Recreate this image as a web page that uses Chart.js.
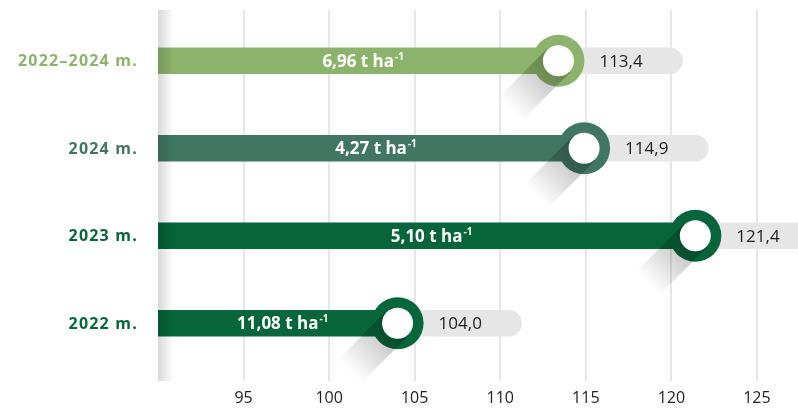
<!DOCTYPE html>
<html>
<head>
<meta charset="utf-8">
<script src="https://cdn.jsdelivr.net/npm/chart.js@4.4.1/dist/chart.umd.min.js"></script>
<style>
  html, body { margin: 0; padding: 0; background: #fff; }
  #wrap { width: 798px; height: 409px; }
</style>
</head>
<body>
<div id="wrap"><canvas id="chart" width="798" height="409"></canvas></div>
<script>
// Duomenys
const categories = ['2022–2024 m.', '2024 m.', '2023 m.', '2022 m.'];
const indexValues = [113.4, 114.9, 121.4, 104.0];
const yieldLabels = ['6,96', '4,27', '5,10', '11,08'];
const barColors = ['#8cb36b', '#417663', '#07643b', '#07663b'];
const xTickValues = [95, 100, 105, 110, 115, 120, 125];

// Stiliaus konstantos
const PILL_LEN = 7.25;
const RING_R = 26;
const HOLE_R = 15.5;
const FONT = '"Open Sans", sans-serif';

const fmt = v => v.toFixed(1).replace('.', ',');

const decorPlugin = {
    id: 'decor',
    beforeDatasetsDraw(chart) {
        const ctx = chart.ctx;
        const x = chart.scales.x;
        const area = chart.chartArea;
        ctx.save();
        ctx.strokeStyle = '#e6e6e6';
        ctx.lineWidth = 2;
        xTickValues.forEach(t => {
            const px = Math.round(x.getPixelForValue(t));
            ctx.beginPath();
            ctx.moveTo(px, area.top - 7);
            ctx.lineTo(px, area.bottom + 14);
            ctx.stroke();
        });
        ctx.restore();
    },
    afterDatasetsDraw(chart) {
        const ctx = chart.ctx;
        const x = chart.scales.x;
        const y = chart.scales.y;
        const area = chart.chartArea;
        const bars = chart.getDatasetMeta(0).data;

        // šešėlis kairėje
        ctx.save();
        const lg = ctx.createLinearGradient(area.left, 0, area.left + 16, 0);
        lg.addColorStop(0, 'rgba(0,0,0,0.15)');
        lg.addColorStop(1, 'rgba(0,0,0,0)');
        ctx.fillStyle = lg;
        ctx.fillRect(area.left, area.top - 7, 16, area.bottom - area.top + 21);
        ctx.restore();

        // kategorijų pavadinimai
        ctx.save();
        ctx.font = 'bold 16px ' + FONT;
        ctx.letterSpacing = '1.2px';
        ctx.textAlign = 'right';
        ctx.textBaseline = 'middle';
        categories.forEach((c, i) => {
            ctx.fillStyle = barColors[i];
            ctx.fillText(c, area.left - 20, y.getPixelForValue(i) + 1);
        });
        ctx.restore();

        bars.forEach((bar, i) => {
            const cx = x.getPixelForValue(indexValues[i]);
            const cy = bar.y;

            // žiedas
            ctx.save();
            ctx.fillStyle = barColors[i];
            ctx.beginPath();
            ctx.arc(cx, cy, RING_R, 0, Math.PI * 2);
            ctx.fill();
            ctx.restore();

            // įstrižas šešėlis (per žiedą ir žemyn kairėn)
            ctx.save();
            ctx.beginPath();
            ctx.rect(area.left, area.top - 20, area.right - area.left, area.bottom - area.top + 40);
            ctx.clip();
            ctx.translate(cx, cy);
            ctx.rotate(Math.PI * 3 / 4);
            const sg = ctx.createLinearGradient(0, 0, 68, 0);
            sg.addColorStop(0, 'rgba(0,0,0,0.26)');
            sg.addColorStop(0.4, 'rgba(0,0,0,0.18)');
            sg.addColorStop(1, 'rgba(0,0,0,0)');
            ctx.fillStyle = sg;
            ctx.fillRect(0, -HOLE_R - 1, 68, HOLE_R * 2 + 2);
            ctx.restore();

            // balta skylė
            ctx.save();
            ctx.fillStyle = '#ffffff';
            ctx.beginPath();
            ctx.arc(cx, cy, HOLE_R, 0, Math.PI * 2);
            ctx.fill();
            ctx.restore();

            // reikšmė pilkoje juostoje
            ctx.save();
            ctx.fillStyle = '#1e1e1e';
            ctx.font = '17px ' + FONT;
            ctx.textBaseline = 'middle';
            ctx.textAlign = 'left';
            ctx.fillText(fmt(indexValues[i]), cx + 41, cy + 1);
            ctx.restore();

            // derlius juostoje
            ctx.save();
            const main = yieldLabels[i] + ' t ha';
            const sup = '-1';
            ctx.font = 'bold 17px ' + FONT;
            const w1 = ctx.measureText(main).width;
            const mid = (area.left + cx) / 2;
            const sx = mid - w1 / 2;
            ctx.fillStyle = '#ffffff';
            ctx.textBaseline = 'middle';
            ctx.textAlign = 'left';
            ctx.fillText(main, sx, cy + 1);
            ctx.font = 'bold 10px ' + FONT;
            ctx.fillText(sup, sx + w1 + 1, cy - 4);
            ctx.restore();
        });
    }
};

new Chart(document.getElementById('chart').getContext('2d'), {
    type: 'bar',
    data: {
        labels: categories,
        datasets: [
            {
                label: 'Indeksas',
                data: indexValues,
                backgroundColor: barColors,
                barThickness: 26,
                grouped: false
            },
            {
                label: 'Fonas',
                data: indexValues.map(v => [v, v + PILL_LEN]),
                backgroundColor: '#e6e6e6',
                borderRadius: 13,
                borderSkipped: false,
                barThickness: 26,
                grouped: false
            }
        ]
    },
    options: {
        indexAxis: 'y',
        responsive: false,
        animation: false,
        layout: { padding: { top: 17, bottom: 0, left: 0, right: 0 } },
        plugins: {
            legend: { display: false },
            tooltip: { enabled: false }
        },
        scales: {
            x: {
                min: 90,
                max: 127.4,
                grid: { display: false, drawTicks: false },
                border: { display: false },
                afterBuildTicks: s => { s.ticks = xTickValues.map(v => ({ value: v })); },
                afterFit: s => { s.height = 42; },
                ticks: {
                    autoSkip: false,
                    maxRotation: 0,
                    padding: 22,
                    color: '#1e1e1e',
                    font: { family: FONT, size: 16 }
                }
            },
            y: {
                grid: { display: false, drawTicks: false },
                border: { display: false },
                afterFit: s => { s.width = 158; },
                ticks: { display: false }
            }
        }
    },
    plugins: [decorPlugin]
});
</script>
</body>
</html>
